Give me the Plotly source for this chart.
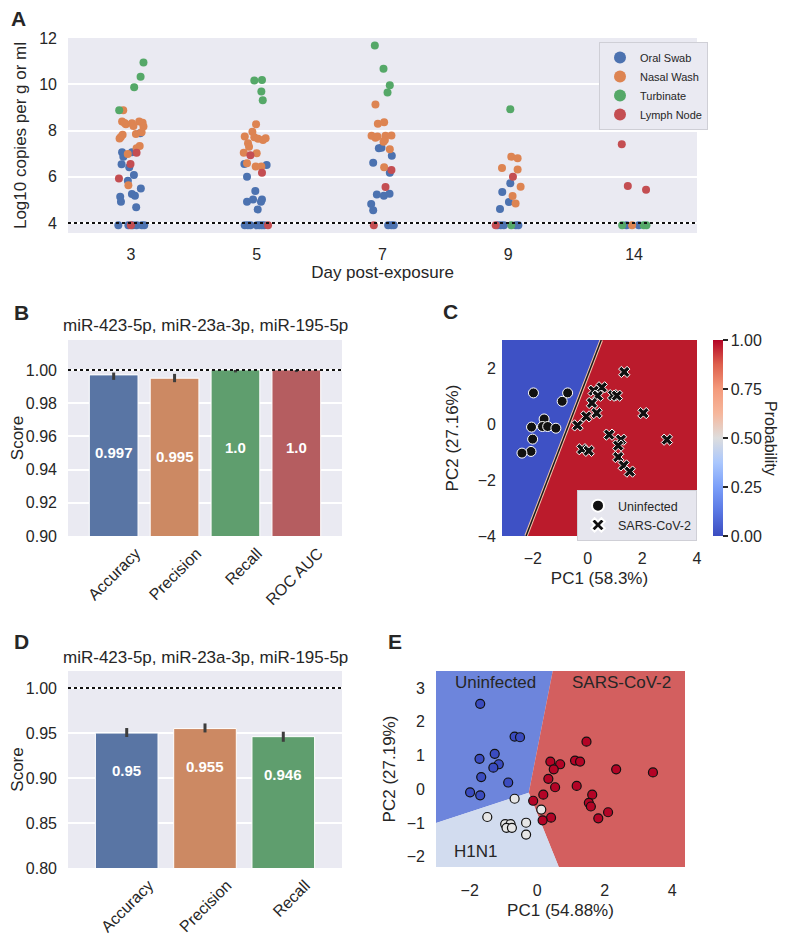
import plotly.graph_objects as go

# =========================================
# STYLE
# =========================================
FONT_FAMILY = "Liberation Sans"
TEXT_COLOR = "#262626"
PANEL_BG = "#eaeaf2"
GRID_COLOR = "white"

POINT_COLORS = ["#4c72b0", "#dd8452", "#55a868", "#c44e52"]
BAR_COLORS = ["#5975a4", "#cc8963", "#5f9e6e", "#b55d60"]
ERR_COLOR = "#3d3d3d"

COOLWARM = [
    [0.0, "#3b4cc0"], [0.125, "#5977e3"], [0.25, "#7b9ff9"],
    [0.375, "#aac7fd"], [0.5, "#dddddd"], [0.625, "#f6b79c"],
    [0.75, "#f49a7b"], [0.875, "#de604d"], [1.0, "#b40426"]
]

# =========================================
# DATA - PANEL A (viral load per sample type)
# =========================================
DAYS = ["3", "5", "7", "9", "14"]
SAMPLE_TYPES = ["Oral Swab", "Nasal Wash", "Turbinate", "Lymph Node"]

ORAL_DAY = ["3"] * 20 + ["5"] * 16 + ["7"] * 13 + ["9"] * 9 + ["14"] * 2
ORAL_JITTER = [
    0.074, -0.07, -0.06, 0.008, -0.074, -0.013, 0.024, -0.024, 0.079, -0.085,
    -0.079, 0.008, 0.032, 0.042, -0.1, -0.02, 0.013, 0.045, 0.087, 0.106,
    -0.098, 0.079, -0.077, -0.011, -0.077, -0.029, 0.042, 0.034, 0.008,
    -0.095, -0.07, -0.05, 0.0, 0.02, 0.04, 0.06,
    -0.029, -0.008, 0.074, -0.074, 0.058, -0.045, 0.011, 0.056, -0.09, -0.074,
    0.045, 0.071, 0.09,
    0.016, -0.048, 0.005, -0.066, -0.085, -0.06, -0.035, 0.06, 0.08,
    -0.06, 0.037
]
ORAL_LOG10 = [
    7.88, 7.06, 6.87, 7.06, 6.54, 6.41, 6.08, 5.83, 5.49, 5.14,
    4.92, 5.26, 5.18, 4.68, 3.9, 3.9, 3.9, 3.9, 3.9, 3.9,
    6.55, 6.51, 6.0, 5.39, 4.92, 5.02, 5.02, 4.92, 4.59,
    3.9, 3.9, 3.9, 3.9, 3.9, 3.9, 3.9,
    7.23, 7.26, 6.91, 6.61, 6.18, 5.23, 5.18, 5.27, 4.82, 4.55,
    3.9, 3.9, 3.9,
    5.72, 5.34, 4.91, 4.61, 3.9, 3.9, 3.9, 3.9, 3.9,
    3.9, 3.9
]

NASAL_DAY = ["3"] * 18 + ["5"] * 14 + ["7"] * 12 + ["9"] * 7 + ["14"]
NASAL_JITTER = [
    -0.061, -0.07, -0.04, 0.008, 0.066, 0.093, 0.1, -0.08, -0.066, 0.04,
    -0.05, 0.02, 0.085, 0.07, 0.045, -0.025, -0.02, -0.09,
    -0.005, -0.034, -0.095, -0.019, 0.011, 0.071, 0.05, -0.069, -0.061,
    -0.103, 0.0, -0.077, -0.008, 0.037,
    -0.056, -0.037, 0.013, -0.087, -0.056, -0.04, 0.024, 0.071, 0.019,
    0.008, 0.058, 0.013,
    0.024, 0.074, -0.05, 0.074, 0.098, 0.034, 0.058,
    -0.016
]
NASAL_LOG10 = [
    8.88, 8.39, 8.27, 8.31, 8.39, 8.34, 8.17, 7.72, 7.82, 7.85,
    8.32, 8.2, 7.93, 7.33, 7.23, 6.99, 5.63, 7.66,
    8.27, 7.95, 7.74, 7.71, 7.64, 7.67, 7.59, 7.45, 7.3,
    7.04, 7.02, 6.58, 6.44, 6.44,
    9.12, 8.29, 8.36, 7.77, 7.69, 7.74, 7.77, 7.78, 7.59,
    7.51, 7.19, 6.41,
    6.87, 6.8, 6.38, 6.31, 5.57, 5.17, 4.85,
    3.9
]

TURB_DAY = ["3"] * 4 + ["5"] * 4 + ["7"] * 4 + ["9"] * 2 + ["14"] * 3
TURB_JITTER = [
    0.1, 0.077, 0.026, -0.093,
    -0.019, 0.042, 0.037, 0.048,
    -0.061, 0.008, 0.058, 0.04,
    0.016, 0.024,
    -0.095, 0.077, 0.098
]
TURB_LOG10 = [
    10.94, 10.32, 9.87, 8.88,
    10.16, 10.18, 9.69, 9.31,
    11.68, 10.67, 9.96, 9.64,
    8.92, 3.9,
    3.9, 3.9, 3.9
]

LYMPH_DAY = ["3"] * 4 + ["5"] * 3 + ["7"] * 3 + ["9"] * 2 + ["14"] * 3
LYMPH_JITTER = [
    0.045, -0.003, -0.095, 0.0,
    -0.05, 0.042, 0.09,
    0.071, 0.024, -0.069,
    0.037, -0.1,
    -0.098, -0.05, 0.095
]
LYMPH_LOG10 = [
    7.04, 6.55, 5.93, 3.9,
    6.93, 6.18, 3.9,
    6.29, 5.56, 3.9,
    6.0, 3.9,
    7.41, 5.6, 5.44
]

DETECTION_LIMIT = 4

# =========================================
# DATA - PANELS B / D (classifier scores)
# =========================================
PANEL_TITLE = "miR-423-5p, miR-23a-3p, miR-195-5p"

B_METRICS = ["Accuracy", "Precision", "Recall", "ROC AUC"]
B_SCORES = [0.997, 0.995, 1.0, 1.0]
B_LABELS = ["0.997", "0.995", "1.0", "1.0"]
B_CI_LOW = [0.9940, 0.9926, 0.9985, 0.9987]
B_CI_HIGH = [0.9984, 0.9976, 1.0, 1.0]

D_METRICS = ["Accuracy", "Precision", "Recall"]
D_SCORES = [0.95, 0.955, 0.946]
D_LABELS = ["0.95", "0.955", "0.946"]
D_CI_LOW = [0.9456, 0.9507, 0.9403]
D_CI_HIGH = [0.9556, 0.9607, 0.9515]

# =========================================
# DATA - PANEL C (PCA, 2 classes)
# =========================================
C_UNINF_PC1 = [-1.98, -0.73, -0.93, -1.59, -1.65, -1.46, -1.16, -2.05, -2.01, -2.07, -2.40]
C_UNINF_PC2 = [1.11, 1.11, 0.81, 0.18, -0.09, -0.09, -0.15, -0.11, -0.54, -0.98, -1.04]
C_SARS_PC1 = [1.34, 0.52, 0.22, 0.37, 0.93, 1.07, 0.16, 0.33, -0.05, 2.04,
              -0.37, 0.79, 1.22, 1.12, 2.90, -0.20, 0.04, 1.12, 1.32, 1.54]
C_SARS_PC2 = [1.86, 1.31, 1.19, 1.01, 1.03, 1.01, 0.75, 0.39, 0.27, 0.39,
              -0.05, -0.38, -0.56, -0.77, -0.56, -0.90, -0.96, -1.18, -1.48, -1.70]
C_BOUNDARY_PC1 = [-2.25, 0.5]
C_BOUNDARY_PC2 = [-4.0, 3.0]
C_XRANGE = [-3.13, 4.0]
C_YRANGE = [-4.0, 3.0]

# =========================================
# DATA - PANEL E (PCA, 3 classes)
# =========================================
E_UNINF_PC1 = [-1.69, -0.67, -0.51, -1.26, -1.71, -1.14, -1.30, -1.66, -0.86, -1.99, -1.69]
E_UNINF_PC2 = [2.53, 1.56, 1.54, 1.05, 0.90, 0.74, 0.64, 0.36, 0.20, -0.09, -0.18]
E_H1N1_PC1 = [-0.67, 0.12, -1.48, -0.95, -0.79, -0.91, -0.75, -0.33, -0.33]
E_H1N1_PC2 = [-0.28, -0.60, -0.82, -1.03, -1.03, -1.14, -1.14, -0.99, -1.34]
E_SARS_PC1 = [1.46, 0.39, 0.68, 1.12, 1.27, 0.49, 2.34, 3.43, 0.33, 0.53,
              1.17, 0.18, 1.63, -0.12, 1.53, 1.59, 2.10, 1.81, 0.41, 0.16]
E_SARS_PC2 = [1.41, 0.82, 0.74, 0.85, 0.82, 0.59, 0.59, 0.50, 0.31, 0.06,
              0.10, -0.16, -0.16, -0.34, -0.40, -0.51, -0.68, -0.86, -0.84, -0.92]
E_JUNCTION = [-0.25, -0.1]
E_TOP_PC1 = 0.46
E_LEFT_PC2 = -1.0
E_BOTTOM_PC1 = 0.64
E_XRANGE = [-3.0, 4.38]
E_YRANGE = [-2.3, 3.5]

# =========================================
# PAGE GEOMETRY (page body keeps an 8px margin)
# =========================================
PAGE_W, PAGE_H, BODY_PAD = 788, 943, 8
FIG_W, FIG_H = PAGE_W - 2 * BODY_PAD, PAGE_H - 2 * BODY_PAD


def px2x(px):
    return (px - BODY_PAD) / FIG_W


def py2y(py):
    return 1 - (py - BODY_PAD) / FIG_H


A_X, A_Y = [px2x(68), px2x(697)], [py2y(233), py2y(38)]
B_X, B_Y = [px2x(68), px2x(342)], [py2y(536), py2y(340)]
C_X, C_Y = [px2x(502), px2x(697)], [py2y(536), py2y(340)]
D_X, D_Y = [px2x(68), px2x(342)], [py2y(868), py2y(671)]
E_X, E_Y = [px2x(436), px2x(685)], [py2y(867), py2y(671)]

fig = go.Figure()

# =========================================
# PANEL A - STRIP PLOT
# =========================================
strip_series = [
    (ORAL_DAY, ORAL_JITTER, ORAL_LOG10),
    (NASAL_DAY, NASAL_JITTER, NASAL_LOG10),
    (TURB_DAY, TURB_JITTER, TURB_LOG10),
    (LYMPH_DAY, LYMPH_JITTER, LYMPH_LOG10),
]
for name, color, (days, jit, vals) in zip(SAMPLE_TYPES, POINT_COLORS, strip_series):
    fig.add_trace(go.Scatter(
        x=[DAYS.index(d) + j for d, j in zip(days, jit)],
        y=vals,
        mode="markers",
        name=name,
        marker=dict(color=color, size=8, line=dict(width=0)),
        xaxis="x", yaxis="y",
        legend="legend"
    ))

# =========================================
# PANEL B / D - BAR CHARTS
# =========================================
def add_bars(metrics, scores, lows, highs, xa, ya):
    fig.add_trace(go.Bar(
        x=metrics,
        y=scores,
        width=0.8,
        marker=dict(color=BAR_COLORS[:len(metrics)], line=dict(color="white", width=1)),
        error_y=dict(
            type="data", symmetric=False,
            array=[h - s for h, s in zip(highs, scores)],
            arrayminus=[s - l for s, l in zip(scores, lows)],
            color=ERR_COLOR, thickness=3, width=0
        ),
        showlegend=False,
        xaxis=xa, yaxis=ya
    ))


add_bars(B_METRICS, B_SCORES, B_CI_LOW, B_CI_HIGH, "x2", "y2")
add_bars(D_METRICS, D_SCORES, D_CI_LOW, D_CI_HIGH, "x4", "y4")

# =========================================
# PANEL C - DECISION REGIONS
# =========================================
cx0, cx1 = C_XRANGE
cy0, cy1 = C_YRANGE
bx0, bx1 = C_BOUNDARY_PC1
fig.add_trace(go.Scatter(
    x=[cx0, bx0, bx1, cx0, cx0], y=[cy0, cy0, cy1, cy1, cy0],
    fill="toself", fillcolor="#3e51c5", mode="none",
    showlegend=False, hoverinfo="skip", xaxis="x3", yaxis="y3"
))
fig.add_trace(go.Scatter(
    x=[bx0, cx1, cx1, bx1, bx0], y=[cy0, cy0, cy1, cy1, cy0],
    fill="toself", fillcolor="#bb1b2c", mode="none",
    showlegend=False, hoverinfo="skip", xaxis="x3", yaxis="y3"
))
fig.add_trace(go.Scatter(
    x=C_BOUNDARY_PC1, y=C_BOUNDARY_PC2, mode="lines",
    line=dict(color="#f2c4aa", width=3.5),
    showlegend=False, hoverinfo="skip", xaxis="x3", yaxis="y3"
))
fig.add_trace(go.Scatter(
    x=C_BOUNDARY_PC1, y=C_BOUNDARY_PC2, mode="lines",
    line=dict(color="#1a1a1a", width=1.5),
    showlegend=False, hoverinfo="skip", xaxis="x3", yaxis="y3"
))
fig.add_trace(go.Scatter(
    x=C_UNINF_PC1, y=C_UNINF_PC2, mode="markers", name="Uninfected",
    marker=dict(symbol="circle", color="#111111", size=10, line=dict(color="white", width=1)),
    xaxis="x3", yaxis="y3", legend="legend2"
))
fig.add_trace(go.Scatter(
    x=C_SARS_PC1, y=C_SARS_PC2, mode="markers", name="SARS-CoV-2",
    marker=dict(symbol="x", color="#111111", size=10, line=dict(color="white", width=1)),
    xaxis="x3", yaxis="y3", legend="legend2"
))
# colorbar carrier
fig.add_trace(go.Scatter(
    x=[None], y=[None], mode="markers", showlegend=False, hoverinfo="skip",
    marker=dict(
        color=[0.5], cmin=0, cmax=1, colorscale=COOLWARM, showscale=True,
        colorbar=dict(
            x=px2x(713), xanchor="left", y=sum(C_Y) / 2, yanchor="middle",
            len=C_Y[1] - C_Y[0], lenmode="fraction", thickness=10,
            xpad=0, ypad=0,
            outlinewidth=0, ticks="outside", ticklen=5, tickwidth=1.5,
            tickcolor=TEXT_COLOR,
            tickvals=[0, 0.25, 0.5, 0.75, 1.0],
            ticktext=["0.00", "0.25", "0.50", "0.75", "1.00"],
            tickfont=dict(size=16, color=TEXT_COLOR)
        )
    ),
    xaxis="x3", yaxis="y3"
))

# =========================================
# PANEL E - 3-CLASS REGIONS
# =========================================
ex0, ex1 = E_XRANGE
ey0, ey1 = E_YRANGE
jx, jy = E_JUNCTION
region_polys = [
    ([ex0, E_TOP_PC1, jx, ex0, ex0], [ey1, ey1, jy, E_LEFT_PC2, ey1], "#6d85dc"),
    ([E_TOP_PC1, ex1, ex1, E_BOTTOM_PC1, jx, E_TOP_PC1], [ey1, ey1, ey0, ey0, jy, ey1], "#d35f5f"),
    ([ex0, jx, E_BOTTOM_PC1, ex0, ex0], [E_LEFT_PC2, jy, ey0, ey0, E_LEFT_PC2], "#d2dcef"),
]
for px_, py_, col in region_polys:
    fig.add_trace(go.Scatter(
        x=px_, y=py_, fill="toself", fillcolor=col, mode="none",
        showlegend=False, hoverinfo="skip", xaxis="x5", yaxis="y5"
    ))
for xs, ys, col in [
    (E_UNINF_PC1, E_UNINF_PC2, "#3b4cc0"),
    (E_H1N1_PC1, E_H1N1_PC2, "#e6e6e6"),
    (E_SARS_PC1, E_SARS_PC2, "#b40426"),
]:
    fig.add_trace(go.Scatter(
        x=xs, y=ys, mode="markers", showlegend=False,
        marker=dict(color=col, size=9, line=dict(color="#111111", width=1.2)),
        xaxis="x5", yaxis="y5"
    ))

# =========================================
# AXES
# =========================================
tick_font = dict(size=16, color=TEXT_COLOR)
title_font = dict(size=17, color=TEXT_COLOR)
common = dict(showline=False, zeroline=False, ticks="", tickfont=tick_font, automargin=False)

fig.update_layout(
    xaxis=dict(domain=A_X, anchor="y", range=[-0.5, 4.5], tickvals=list(range(len(DAYS))),
               ticktext=DAYS, showgrid=False, ticklabelstandoff=10,
               title=dict(text="Day post-exposure", font=title_font, standoff=2), **common),
    yaxis=dict(domain=A_Y, anchor="x", range=[3.57, 12.0], tickvals=[4, 6, 8, 10, 12],
               gridcolor=GRID_COLOR, gridwidth=1.5, ticklabelstandoff=10,
               title=dict(text="Log10 copies per g or ml", font=title_font, standoff=8), **common),
    xaxis2=dict(domain=B_X, anchor="y2", range=[-0.75, 3.75], showgrid=False,
                tickangle=-45, ticklabelshift=22, ticklabelstandoff=4, **common),
    yaxis2=dict(domain=B_Y, anchor="x2", range=[0.9, 1.018],
                tickvals=[0.90, 0.92, 0.94, 0.96, 0.98, 1.00], tickformat=".2f",
                gridcolor=GRID_COLOR, gridwidth=1.5, ticklabelstandoff=10,
                title=dict(text="Score", font=title_font, standoff=2), **common),
    xaxis3=dict(domain=C_X, anchor="y3", range=C_XRANGE, tickvals=[-2, 0, 2, 4],
                showgrid=False, ticklabelstandoff=11,
                title=dict(text="PC1 (58.3%)", font=title_font, standoff=6), **common),
    yaxis3=dict(domain=C_Y, anchor="x3", range=C_YRANGE, tickvals=[-4, -2, 0, 2],
                showgrid=False, ticklabelstandoff=5,
                title=dict(text="PC2 (27.16%)", font=title_font, standoff=14), **common),
    xaxis4=dict(domain=D_X, anchor="y4", range=[-0.75, 2.75], showgrid=False,
                tickangle=-45, ticklabelshift=22, ticklabelstandoff=4, **common),
    yaxis4=dict(domain=D_Y, anchor="x4", range=[0.8, 1.019],
                tickvals=[0.80, 0.85, 0.90, 0.95, 1.00], tickformat=".2f",
                gridcolor=GRID_COLOR, gridwidth=1.5, ticklabelstandoff=10,
                title=dict(text="Score", font=title_font, standoff=2), **common),
    xaxis5=dict(domain=E_X, anchor="y5", range=E_XRANGE, tickvals=[-2, 0, 2, 4],
                showgrid=False, ticklabelstandoff=12,
                title=dict(text="PC1 (54.88%)", font=title_font, standoff=6), **common),
    yaxis5=dict(domain=E_Y, anchor="x5", range=E_YRANGE, tickvals=[-2, -1, 0, 1, 2, 3],
                showgrid=False, ticklabelstandoff=10,
                title=dict(text="PC2 (27.19%)", font=title_font, standoff=6), **common),
)

# dotted reference lines
for xref, yref, yv in [("x domain", "y", DETECTION_LIMIT), ("x2 domain", "y2", 1.0), ("x4 domain", "y4", 1.0)]:
    fig.add_shape(type="line", xref=xref, yref=yref, x0=0, x1=1, y0=yv, y1=yv,
                  line=dict(color="#111111", width=2, dash="dot"))

# =========================================
# ANNOTATIONS
# =========================================
centered = dict(showarrow=False, xanchor="center", yanchor="middle")

for metrics, labels, scores, xa, ya, off in [
    (B_METRICS, B_LABELS, B_SCORES, "x2", "y2", 0.047),
    (D_METRICS, D_LABELS, D_SCORES, "x4", "y4", 0.042),
]:
    for m, lab, s in zip(metrics, labels, scores):
        fig.add_annotation(x=m, y=s - off, xref=xa, yref=ya, text=f"<b>{lab}</b>",
                           font=dict(size=15, color="white"), **centered)

for yv in [py2y(325), py2y(657)]:
    fig.add_annotation(x=sum(B_X) / 2, y=yv, xref="paper", yref="paper", text=PANEL_TITLE,
                       font=dict(size=17, color=TEXT_COLOR), **centered)

# colorbar label
fig.add_annotation(x=px2x(770), y=sum(C_Y) / 2, xref="paper", yref="paper",
                   text="Probability", textangle=90, borderpad=0,
                   font=dict(size=16, color=TEXT_COLOR), **centered)

for txt, xv, yv in [("Uninfected", -1.24, 3.17), ("SARS-CoV-2", 2.49, 3.17), ("H1N1", -1.83, -1.83)]:
    fig.add_annotation(x=xv, y=yv, xref="x5", yref="y5", text=txt,
                       font=dict(size=17, color=TEXT_COLOR), **centered)

for letter, lx, ly in [("A", 18, 18), ("B", 21, 312), ("C", 450, 311), ("D", 21, 641), ("E", 395, 641)]:
    fig.add_annotation(x=px2x(lx), y=py2y(ly), xref="paper", yref="paper",
                       text=f"<b>{letter}</b>",
                       font=dict(size=21, color=TEXT_COLOR), **centered)

fig.update_layout(
    width=FIG_W, height=FIG_H,
    margin=dict(l=0, r=0, t=0, b=0, autoexpand=False),
    paper_bgcolor="white",
    plot_bgcolor=PANEL_BG,
    font=dict(family=FONT_FAMILY, color=TEXT_COLOR),
    legend=dict(x=px2x(599), y=py2y(42), xanchor="left", yanchor="top", bgcolor=PANEL_BG,
                bordercolor="#cfcfd6", borderwidth=1, itemsizing="constant",
                itemwidth=30, font=dict(size=11, color=TEXT_COLOR)),
    legend2=dict(x=px2x(577), y=py2y(490), xanchor="left", yanchor="top", bgcolor="#e6e6ee",
                 bordercolor="#cfcfd6", borderwidth=1, itemsizing="constant",
                 itemwidth=30, font=dict(size=12.5, color=TEXT_COLOR)),
    bargap=0.2,
)

fig.write_html("out.html")
